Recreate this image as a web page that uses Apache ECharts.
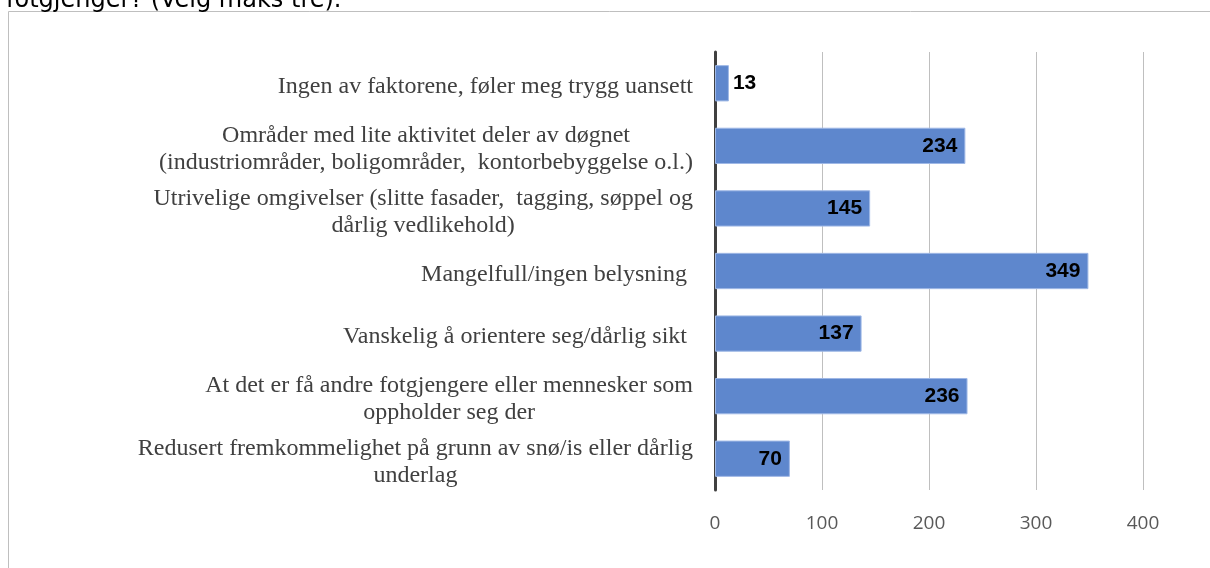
<!DOCTYPE html>
<html>
<head>
<meta charset="utf-8">
<script src="https://cdn.jsdelivr.net/npm/echarts@6/dist/echarts.min.js"></script>
<style>
  html, body { margin: 0; padding: 0; background: #fff; }
  #chart { width: 1210px; height: 568px; }
</style>
</head>
<body>
<div id="chart"></div>
<script>
var categories = [
  "Ingen av faktorene, føler meg trygg uansett",
  "Områder med lite aktivitet deler av døgnet\n(industriområder, boligområder,  kontorbebyggelse o.l.)",
  "Utrivelige omgivelser (slitte fasader,  tagging, søppel og\ndårlig vedlikehold)",
  "Mangelfull/ingen belysning ",
  "Vanskelig å orientere seg/dårlig sikt ",
  "At det er få andre fotgjengere eller mennesker som\noppholder seg der",
  "Redusert fremkommelighet på grunn av snø/is eller dårlig\nunderlag"
];
var values = [13, 234, 145, 349, 137, 236, 70];
var xTicks = [0, 100, 200, 300, 400];

var chart = echarts.init(document.getElementById("chart"));

var option = {
  animation: false,
  graphic: [
    {
      type: "rect",
      shape: { x: 8.5, y: 11.5, width: 1300, height: 600 },
      style: { fill: "none", stroke: "#bfbfbf", lineWidth: 1 }
    },
    {
      type: "text",
      left: 6,
      top: -11,
      style: {
        text: "fotgjenger? (Velg maks tre).",
        font: "24px 'DejaVu Sans'",
        fill: "#000"
      }
    }
  ],
  grid: { left: 715, right: 67, top: 52, bottom: 78 },
  xAxis: {
    type: "value",
    min: xTicks[0],
    max: xTicks[xTicks.length - 1],
    interval: 100,
    axisLine: { show: false },
    axisTick: { show: false },
    splitLine: {
      show: true,
      lineStyle: { color: "#bfbfbf", width: 1 },
      showMinLine: false
    },
    axisLabel: {
      margin: 24,
      color: "#595959",
      fontFamily: "Open Sans",
      fontSize: 19
    }
  },
  yAxis: {
    type: "category",
    data: categories,
    inverse: true,
    axisLine: { show: true, lineStyle: { color: "#404040", width: 3 } },
    axisTick: { show: false },
    axisLabel: {
      margin: 22,
      padding: [7, 0, 0, 0],
      color: "#404040",
      fontFamily: "Liberation Serif",
      fontSize: 24,
      lineHeight: 27,
      formatter: function (v) {
        return v.split("\n").map(function (l) { return "{c|" + l + "}"; }).join("\n");
      },
      rich: {
        c: {
          align: "center",
          color: "#404040",
          fontFamily: "Liberation Serif",
          fontSize: 24,
          lineHeight: 27
        }
      }
    }
  },
  series: [
    {
      type: "bar",
      data: values.map(function (v) {
        return {
          value: v,
          label: v < 30 ? { position: "right", distance: 4 } : {}
        };
      }),
      barCategoryGap: "42%",
      itemStyle: { color: "#5e87cd", borderColor: "#9fb8e6", borderWidth: 1 },
      label: {
        show: true,
        position: "insideRight",
        distance: 8,
        color: "#000",
        fontFamily: "Liberation Sans",
        fontWeight: "bold",
        fontSize: 21
      }
    }
  ]
};

chart.setOption(option);
</script>
</body>
</html>
